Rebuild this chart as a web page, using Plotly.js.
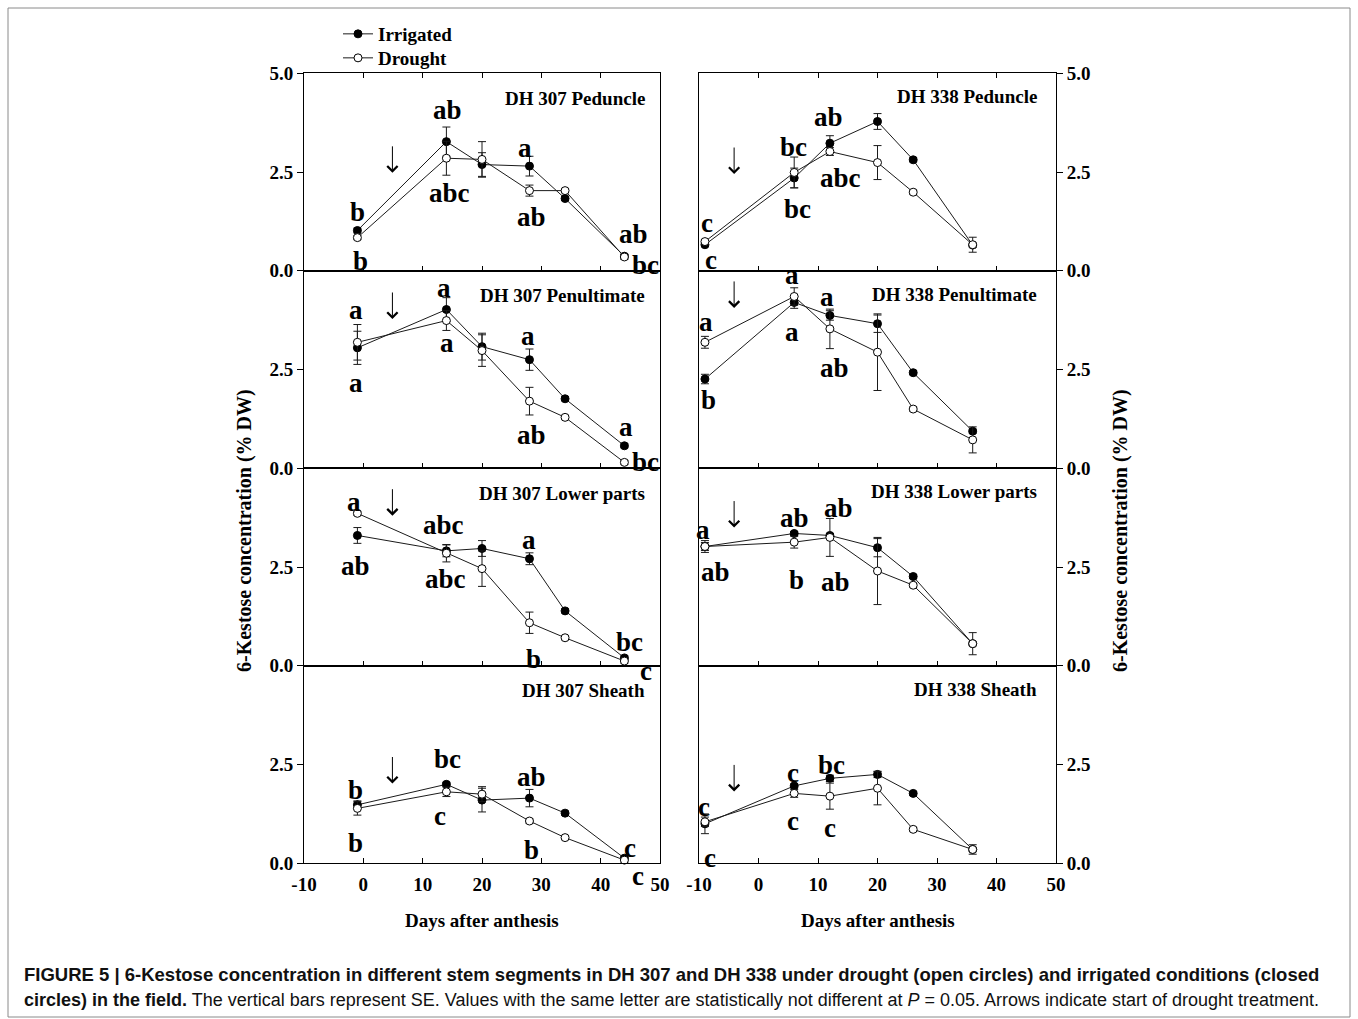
<!DOCTYPE html>
<html><head><meta charset="utf-8">
<script src="https://cdn.plot.ly/plotly-3.0.1.min.js"></script>
<style>html,body{margin:0;padding:0;background:#fff}</style>
</head><body><div id="chart" style="width:1358px;height:1019px"></div>
<script>
// ---------- data ----------
const days307 = [-1, 14, 20, 28, 34, 44];
const days338 = [-9, 6, 12, 20, 26, 36];

const ped307Irr = [1.02, 3.27, 2.69, 2.65, 1.83, 0.37];
const ped307IrrSE = [0.06, 0.37, 0.30, 0.25, 0.05, 0.05];
const ped307Dro = [0.84, 2.85, 2.82, 2.03, 2.03, 0.35];
const ped307DroSE = [0.05, 0.43, 0.45, 0.14, 0.05, 0.06];

const pen307Irr = [3.05, 4.02, 3.08, 2.75, 1.76, 0.57];
const pen307IrrSE = [0.42, 0.30, 0.34, 0.27, 0.05, 0.05];
const pen307Dro = [3.19, 3.74, 2.98, 1.70, 1.29, 0.15];
const pen307DroSE = [0.45, 0.25, 0.40, 0.35, 0.05, 0.05];

const low307Irr = [3.30, 2.91, 2.97, 2.71, 1.39, 0.20];
const low307IrrSE = [0.20, 0.15, 0.20, 0.15, 0.05, 0.05];
const low307Dro = [3.86, 2.85, 2.46, 1.09, 0.71, 0.12];
const low307DroSE = [0.05, 0.22, 0.45, 0.27, 0.05, 0.05];

const sh307Irr = [1.48, 2.00, 1.60, 1.65, 1.27, 0.13];
const sh307IrrSE = [0.10, 0.05, 0.30, 0.22, 0.05, 0.05];
const sh307Dro = [1.39, 1.81, 1.75, 1.07, 0.65, 0.08];
const sh307DroSE = [0.17, 0.12, 0.19, 0.05, 0.05, 0.05];

const ped338Irr = [0.66, 2.35, 3.23, 3.78, 2.81, 0.65];
const ped338IrrSE = [0.05, 0.25, 0.19, 0.20, 0.05, 0.05];
const ped338Dro = [0.74, 2.49, 3.02, 2.74, 1.99, 0.66];
const ped338DroSE = [0.05, 0.39, 0.10, 0.43, 0.05, 0.19];

const pen338Irr = [2.26, 4.20, 3.87, 3.66, 2.42, 0.94];
const pen338IrrSE = [0.12, 0.15, 0.12, 0.22, 0.05, 0.05];
const pen338Dro = [3.19, 4.35, 3.53, 2.94, 1.50, 0.72];
const pen338DroSE = [0.15, 0.22, 0.50, 0.97, 0.05, 0.33];

const low338Irr = [3.02, 3.35, 3.30, 2.99, 2.26, 0.56];
const low338IrrSE = [0.10, 0.05, 0.05, 0.23, 0.05, 0.05];
const low338Dro = [3.02, 3.13, 3.25, 2.40, 2.04, 0.56];
const low338DroSE = [0.15, 0.15, 0.48, 0.85, 0.05, 0.28];

const sh338Irr = [1.00, 1.96, 2.15, 2.25, 1.77, 0.35];
const sh338IrrSE = [0.25, 0.05, 0.08, 0.08, 0.05, 0.05];
const sh338Dro = [1.05, 1.77, 1.70, 1.90, 0.86, 0.35];
const sh338DroSE = [0.12, 0.10, 0.33, 0.42, 0.05, 0.12];

const panelTitles = ['DH 307 Peduncle', 'DH 307 Penultimate', 'DH 307 Lower parts', 'DH 307 Sheath',
                     'DH 338 Peduncle', 'DH 338 Penultimate', 'DH 338 Lower parts', 'DH 338 Sheath'];

// significance letters (text, day, value)
const ped307Let = ['b','b','ab','abc','a','ab','ab','bc'];
const ped307LetX = [-0.9,-0.5,14.2,14.6,27.3,28.4,45.5,47.5];
const ped307LetY = [1.50,0.26,4.07,1.96,3.10,1.35,0.93,0.15];
const pen307Let = ['a','a','a','a','a','ab','a','bc'];
const pen307LetX = [-1.2,-1.2,13.6,14.1,27.8,28.4,44.3,47.5];
const pen307LetY = [4.01,2.15,4.56,3.16,3.35,0.84,1.05,0.17];
const low307Let = ['a','ab','abc','abc','a','b','bc','c'];
const low307LetX = [-1.6,-1.4,13.5,13.8,28.0,28.6,44.9,47.6];
const low307LetY = [4.15,2.53,3.56,2.19,3.18,0.16,0.60,-0.12];
const sh307Let = ['b','b','bc','c','ab','b','c','c'];
const sh307LetX = [-1.4,-1.4,14.2,13.0,28.4,28.4,45.0,46.3];
const sh307LetY = [1.86,0.52,2.63,1.20,2.19,0.34,0.38,-0.33];
const ped338Let = ['c','c','bc','bc','ab','abc'];
const ped338LetX = [-8.7,-7.9,5.85,6.5,11.7,13.7];
const ped338LetY = [1.20,0.27,3.14,1.56,3.89,2.34];
const pen338Let = ['a','b','a','a','a','ab'];
const pen338LetX = [-8.8,-8.4,5.6,5.6,11.5,12.7];
const pen338LetY = [3.71,1.73,4.89,3.46,4.34,2.53];
const low338Let = ['a','ab','ab','b','ab','ab'];
const low338LetX = [-9.3,-7.3,6.1,6.4,13.4,12.9];
const low338LetY = [3.44,2.38,3.73,2.17,3.99,2.13];
const sh338Let = ['c','c','c','c','bc','c'];
const sh338LetX = [-9.2,-8.2,5.85,5.85,12.3,12.0];
const sh338LetY = [1.43,0.14,2.29,1.07,2.49,0.89];

// drought-start arrows: day and value at the arrow tip
const arrowDay307 = 4.9, arrowDay338 = -4.1;
const arrowTip307 = [2.48, 3.78, 3.80, 2.02];
const arrowTip338 = [2.45, 4.06, 3.50, 1.82];

const xTicks = [-10, 0, 10, 20, 30, 40, 50];

const caption1 = '<b>FIGURE 5 | 6-Kestose concentration in different stem segments in DH 307 and DH 338 under drought (open circles) and irrigated conditions (closed</b>';
const caption2 = '<b>circles) in the field.</b> The vertical bars represent SE. Values with the same letter are statistically not different at <i>P</i> = 0.05. Arrows indicate start of drought treatment.';

// ---------- build ----------
const panels = [
  {days: days307, irr: ped307Irr, irrSE: ped307IrrSE, dro: ped307Dro, droSE: ped307DroSE, let: ped307Let, lx: ped307LetX, ly: ped307LetY, ad: arrowDay307, ay: arrowTip307[0]},
  {days: days307, irr: pen307Irr, irrSE: pen307IrrSE, dro: pen307Dro, droSE: pen307DroSE, let: pen307Let, lx: pen307LetX, ly: pen307LetY, ad: arrowDay307, ay: arrowTip307[1]},
  {days: days307, irr: low307Irr, irrSE: low307IrrSE, dro: low307Dro, droSE: low307DroSE, let: low307Let, lx: low307LetX, ly: low307LetY, ad: arrowDay307, ay: arrowTip307[2]},
  {days: days307, irr: sh307Irr, irrSE: sh307IrrSE, dro: sh307Dro, droSE: sh307DroSE, let: sh307Let, lx: sh307LetX, ly: sh307LetY, ad: arrowDay307, ay: arrowTip307[3]},
  {days: days338, irr: ped338Irr, irrSE: ped338IrrSE, dro: ped338Dro, droSE: ped338DroSE, let: ped338Let, lx: ped338LetX, ly: ped338LetY, ad: arrowDay338, ay: arrowTip338[0]},
  {days: days338, irr: pen338Irr, irrSE: pen338IrrSE, dro: pen338Dro, droSE: pen338DroSE, let: pen338Let, lx: pen338LetX, ly: pen338LetY, ad: arrowDay338, ay: arrowTip338[1]},
  {days: days338, irr: low338Irr, irrSE: low338IrrSE, dro: low338Dro, droSE: low338DroSE, let: low338Let, lx: low338LetX, ly: low338LetY, ad: arrowDay338, ay: arrowTip338[2]},
  {days: days338, irr: sh338Irr, irrSE: sh338IrrSE, dro: sh338Dro, droSE: sh338DroSE, let: sh338Let, lx: sh338LetX, ly: sh338LetY, ad: arrowDay338, ay: arrowTip338[3]}
];

const W = 1358, H = 1019;
const colX = [[304, 660], [699, 1056]];
const rowEdges = [73.3, 270.8, 468.3, 665.8, 863.3];
const pxPerUnit = (rowEdges[1] - rowEdges[0]) / 5;
const serif = 'Liberation Serif, Times New Roman, serif';
const tickFont = {family: serif, size: 19, color: '#000', weight: 'bold'};
const legendFont = {family: serif, size: 19, color: '#000', weight: 'bold'};

const traces = [];
const annotations = [];
const layout = {
  width: W, height: H,
  margin: {l: 0, r: 0, t: 0, b: 0},
  paper_bgcolor: '#fff', plot_bgcolor: '#fff',
  showlegend: true,
  legend: {x: 338 / W, y: 1 - 15 / H, xanchor: 'left', yanchor: 'top',
           font: legendFont, bgcolor: 'rgba(0,0,0,0)'},
  legend2: {x: 338 / W, y: 1 - 39 / H, xanchor: 'left', yanchor: 'top',
           font: legendFont, bgcolor: 'rgba(0,0,0,0)'},
  annotations: annotations,
  shapes: [{type: 'rect', xref: 'paper', yref: 'paper',
            x0: 8 / W, x1: 1350 / W, y0: 1 - 1017 / H, y1: 1 - 8 / H,
            line: {color: '#8a8a8a', width: 1}, fillcolor: 'rgba(0,0,0,0)', layer: 'below'}]
};

panels.forEach((p, i) => {
  const col = i < 4 ? 0 : 1;
  const row = i % 4;
  const n = i + 1;
  const xa = 'xaxis' + n, ya = 'yaxis' + n;
  const xr = 'x' + n, yr = 'y' + n;
  layout[xa] = {
    domain: [colX[col][0] / W, colX[col][1] / W],
    range: [-10, 50], anchor: yr,
    tickvals: xTicks, ticktext: xTicks.map(String),
    ticks: 'inside', ticklen: 5, tickwidth: 1, tickcolor: '#000',
    showticklabels: row === 3, tickfont: tickFont, ticklabelstandoff: 4,
    showline: true, linecolor: '#000', linewidth: 1,
    mirror: row === 0 ? 'ticks' : true,
    showgrid: false, zeroline: false, fixedrange: true
  };
  const yt = row === 0 ? [0, 2.5, 5] : [0, 2.5];
  layout[ya] = {
    domain: [1 - rowEdges[row + 1] / H, 1 - rowEdges[row] / H],
    range: [0, 5], anchor: xr, side: col === 0 ? 'left' : 'right',
    tickvals: yt, ticktext: yt.map(v => v.toFixed(1)),
    ticks: 'outside', ticklen: 6, tickwidth: 1, tickcolor: '#000',
    tickfont: tickFont,
    showline: true, linecolor: '#000', linewidth: 1, mirror: true,
    showgrid: false, zeroline: false, fixedrange: true
  };
  traces.push({
    type: 'scatter', mode: 'lines+markers', name: 'Irrigated',
    x: p.days, y: p.irr, xaxis: xr, yaxis: yr,
    showlegend: i === 0, legend: 'legend',
    line: {color: '#1a1a1a', width: 1},
    marker: {symbol: 'circle', size: 8, color: '#000', line: {color: '#000', width: 1}},
    error_y: {type: 'data', array: p.irrSE, visible: true, color: '#1a1a1a', thickness: 1, width: 4},
    cliponaxis: false
  });
  traces.push({
    type: 'scatter', mode: 'lines+markers', name: 'Drought',
    x: p.days, y: p.dro, xaxis: xr, yaxis: yr,
    showlegend: i === 0, legend: 'legend2',
    line: {color: '#1a1a1a', width: 1},
    marker: {symbol: 'circle', size: 8, color: '#fff', line: {color: '#000', width: 1}},
    error_y: {type: 'data', array: p.droSE, visible: true, color: '#1a1a1a', thickness: 1, width: 4},
    cliponaxis: false
  });
  // letters
  p.let.forEach((t, k) => {
    const v = p.ly[k];
    const yc = Math.max(0, Math.min(5, v));
    annotations.push({
      xref: xr, yref: yr, x: p.lx[k], y: yc, yshift: (v - yc) * pxPerUnit,
      text: '<b>' + t + '</b>', showarrow: false, xanchor: 'center', yanchor: 'middle',
      font: {family: serif, size: 27, color: '#000'}
    });
  });
  // drought-start arrow (open chevron head)
  annotations.push({
    xref: xr, yref: yr, x: p.ad, y: p.ay, text: '', showarrow: true,
    ax: 0, ay: -28, arrowhead: 4, arrowsize: 2, arrowwidth: 1, arrowcolor: '#000',
    standoff: 0, startstandoff: 0
  });
  // panel title
  annotations.push({
    xref: xr + ' domain', yref: yr + ' domain',
    x: col === 0 ? 0.963 : 0.953, y: col === 0 ? 0.873 : 0.881,
    text: '<b>' + panelTitles[i] + '</b>', showarrow: false, xanchor: 'right', yanchor: 'middle',
    font: {family: serif, size: 19, color: '#000'}
  });
});

// axis titles
[0, 1].forEach(col => {
  annotations.push({
    xref: 'paper', yref: 'paper', x: (colX[col][0] + colX[col][1]) / 2 / W, y: 1 - 920 / H,
    text: '<b>Days after anthesis</b>', showarrow: false, xanchor: 'center', yanchor: 'middle',
    font: {family: serif, size: 19, color: '#000'}
  });
  annotations.push({
    xref: 'paper', yref: 'paper', x: (col === 0 ? 244 : 1120) / W, y: 1 - 531 / H,
    text: '<b>6-Kestose concentration (% DW)</b>', showarrow: false, textangle: -90,
    xanchor: 'center', yanchor: 'middle',
    font: {family: serif, size: 20, color: '#000'}
  });
});

// caption
annotations.push({
  xref: 'paper', yref: 'paper', x: 22 / W, y: 1 - 974 / H, xanchor: 'left', yanchor: 'middle',
  text: caption1, showarrow: false, align: 'left',
  font: {family: 'Liberation Sans, Arial, sans-serif', size: 18.5, color: '#111'}
});
annotations.push({
  xref: 'paper', yref: 'paper', x: 22 / W, y: 1 - 1000 / H, xanchor: 'left', yanchor: 'middle',
  text: caption2, showarrow: false, align: 'left',
  font: {family: 'Liberation Sans, Arial, sans-serif', size: 18, color: '#111'}
});

Plotly.newPlot('chart', traces, layout, {displayModeBar: false, staticPlot: true});
</script>
</body></html>
